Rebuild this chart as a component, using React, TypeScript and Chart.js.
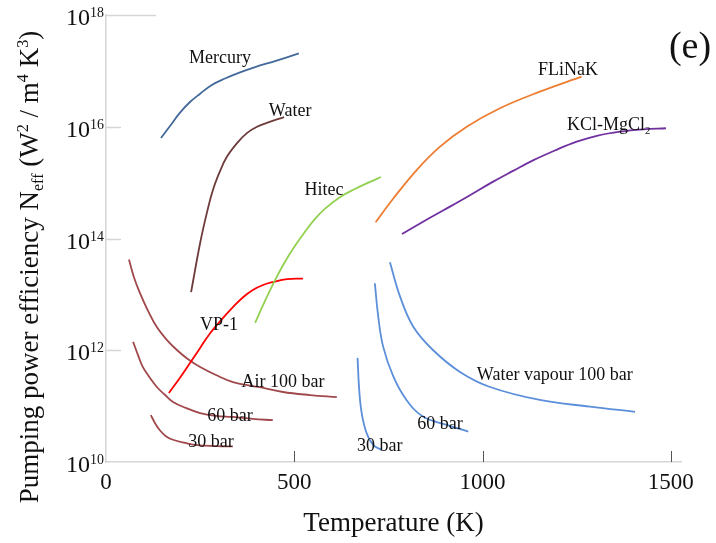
import React, { useEffect, useRef } from 'react';
import { Chart, registerables } from 'chart.js';

Chart.register(...registerables);

// ---------- data ----------
const xTickValues = [0, 500, 1000, 1500];
const yTickValues = [1e10, 1e12, 1e14, 1e16, 1e18];

const mercuryT = [146, 170, 196, 223, 250, 281, 316, 356, 396, 449, 512];
const mercuryN = [6.3e15, 1.03e16, 1.77e16, 2.77e16, 3.9e16, 5.6e16, 7.3e16, 9.4e16, 1.17e17, 1.5e17, 2.05e17];

const waterT = [226, 250, 268, 284, 303, 321, 348, 374, 401, 427, 473];
const waterN = [1.1e13, 8.3e13, 2.9e14, 7.4e14, 1.62e15, 2.9e15, 5.1e15, 7.7e15, 1.0e16, 1.17e16, 1.49e16];

const hitecT = [396, 422, 449, 475, 502, 528, 555, 581, 621, 661, 701, 730];
const hitecN = [3.1e12, 7.6e12, 1.8e13, 3.8e13, 7.4e13, 1.31e14, 2.24e14, 3.4e14, 5.5e14, 7.7e14, 1.03e15, 1.26e15];

const vp1T = [167, 196, 223, 250, 276, 308, 337, 364, 390, 417, 443, 481, 523];
const vp1N = [1.72e11, 3.2e11, 5.9e11, 1.1e12, 2.0e12, 3.6e12, 5.9e12, 8.9e12, 1.2e13, 1.47e13, 1.66e13, 1.88e13, 1.92e13];

const air100T = [61, 74, 90, 112, 135, 162, 189, 218, 250, 292, 337, 404, 470, 542, 613];
const air100N = [4.2e13, 2.05e13, 1.06e13, 5.0e12, 2.6e12, 1.52e12, 1.0e12, 6.9e11, 5.0e11, 3.6e11, 2.7e11, 2.2e11, 1.79e11, 1.58e11, 1.45e11];

const air60T = [72, 85, 98, 117, 135, 157, 178, 212, 250, 292, 337, 390, 443];
const air60N = [1.41e12, 8.2e11, 5.0e11, 3.2e11, 2.2e11, 1.58e11, 1.19e11, 9.3e10, 7.5e10, 6.7e10, 6.4e10, 5.9e10, 5.6e10];

const air30T = [119, 130, 143, 159, 178, 210, 242, 295, 337];
const air30N = [6.9e10, 5.0e10, 3.7e10, 2.9e10, 2.5e10, 2.2e10, 2.0e10, 1.93e10, 1.9e10];

const vap100T = [754, 781, 816, 869, 940, 1020, 1152, 1285, 1405];
const vap100N = [3.75e13, 9.1e12, 2.64e12, 1.0e12, 4.1e11, 2.2e11, 1.29e11, 9.8e10, 7.9e10];

const vap60T = [714, 723, 736, 763, 798, 842, 905, 962];
const vap60N = [1.58e13, 4.0e12, 1.16e12, 3.4e11, 1.29e11, 6.5e10, 4.6e10, 3.5e10];

const vap30T = [668, 672.5, 679, 692, 710, 732];
const vap30N = [7.3e11, 1.95e11, 7.5e10, 3.3e10, 2.0e10, 1.64e10];

const flinakT = [716, 763, 825, 887, 958, 1046, 1152, 1263];
const flinakN = [1.95e14, 5.2e14, 1.68e15, 4.4e15, 1.0e16, 2.14e16, 4.24e16, 7.9e16];

const kclT = [786, 842, 895, 961, 1027, 1081, 1134, 1192, 1250, 1306, 1365, 1426, 1487];
const kclN = [1.2e14, 2.0e14, 3.17e14, 5.65e14, 1.03e15, 1.62e15, 2.5e15, 3.76e15, 5.4e15, 6.97e15, 8.2e15, 9.0e15, 9.4e15];

// curve labels (text, temperature, Neff)
const labelTexts = ['Mercury', 'Water', 'Hitec', 'FLiNaK', 'KCl-MgCl_{2}', 'VP-1', 'Air 100 bar', '60 bar', '30 bar', 'Water vapour 100 bar', '60 bar', '30 bar'];
const labelT = [303, 489, 579, 1227, 1335, 300, 470, 329, 279, 1192, 887, 727];
const labelN = [1.78e17, 2.0e16, 7.7e14, 1.08e17, 1.12e16, 2.95e12, 2.8e11, 6.9e10, 2.4e10, 3.8e11, 5.0e10, 2.0e10];

const xTitle = 'Temperature (K)';
const yTitle = 'Pumping power efficiency N_{eff} (W^{2} / m^{4} K^{3})';
const panelLabel = '(e)';

// ---------- styling ----------
const FONT = "'Liberation Serif', 'Times New Roman', serif";
const AIR = '#a0484b';
const VAP = '#5b8fd9';

const seriesDefs = [
  { t: mercuryT, n: mercuryN, color: '#43699a' },
  { t: waterT, n: waterN, color: '#6e3b3b' },
  { t: hitecT, n: hitecN, color: '#92d050' },
  { t: vp1T, n: vp1N, color: '#ff0000' },
  { t: air100T, n: air100N, color: AIR },
  { t: air60T, n: air60N, color: AIR },
  { t: air30T, n: air30N, color: AIR },
  { t: vap100T, n: vap100N, color: VAP },
  { t: vap60T, n: vap60N, color: VAP },
  { t: vap30T, n: vap30N, color: VAP },
  { t: flinakT, n: flinakN, color: '#ed7d31' },
  { t: kclT, n: kclN, color: '#7030a0' },
];

type Part = { text: string; kind: 'n' | 'sub' | 'sup' };
function parseRich(s: string): Part[] {
  const parts: Part[] = [];
  const re = /(_\{[^}]*\}|\^\{[^}]*\})/g;
  let last = 0;
  let m: RegExpExecArray | null;
  while ((m = re.exec(s))) {
    if (m.index > last) parts.push({ text: s.slice(last, m.index), kind: 'n' });
    const tok = m[0];
    parts.push({ text: tok.slice(2, -1), kind: tok[0] === '_' ? 'sub' : 'sup' });
    last = m.index + tok.length;
  }
  if (last < s.length) parts.push({ text: s.slice(last), kind: 'n' });
  return parts;
}

function richWidth(ctx: CanvasRenderingContext2D, s: string, size: number, ratio: number) {
  let w = 0;
  for (const p of parseRich(s)) {
    ctx.font = `${p.kind === 'n' ? size : size * ratio}px ${FONT}`;
    w += ctx.measureText(p.text).width;
  }
  return w;
}

function drawRich(ctx: CanvasRenderingContext2D, s: string, x: number, baseline: number, size: number, ratio: number, supShift: number, subShift: number) {
  let cx = x;
  ctx.textAlign = 'left';
  ctx.textBaseline = 'alphabetic';
  for (const p of parseRich(s)) {
    ctx.font = `${p.kind === 'n' ? size : size * ratio}px ${FONT}`;
    const off = p.kind === 'sup' ? -supShift : p.kind === 'sub' ? subShift : 0;
    ctx.fillText(p.text, cx, baseline + off);
    cx += ctx.measureText(p.text).width;
  }
}

const decorPlugin = {
  id: 'decor',
  beforeDatasetsDraw(chart: any) {
    const { ctx, chartArea, scales } = chart;
    const xs = scales.x;
    const ys = scales.y;
    ctx.save();
    // inner tick marks on y axis
    ctx.strokeStyle = '#d6d6d6';
    ctx.lineWidth = 1.5;
    for (const v of yTickValues) {
      if (v === yTickValues[0]) continue;
      const py = Math.round(ys.getPixelForValue(v)) + 0.5;
      const len = v === yTickValues[yTickValues.length - 1] ? 50 : 15;
      ctx.beginPath();
      ctx.moveTo(chartArea.left, py);
      ctx.lineTo(chartArea.left + len, py);
      ctx.stroke();
    }
    // inner tick marks on x axis
    ctx.strokeStyle = '#555555';
    ctx.lineWidth = 1;
    for (const v of xTickValues) {
      if (v === 0) continue;
      const px = Math.round(xs.getPixelForValue(v)) + 0.5;
      ctx.beginPath();
      ctx.moveTo(px, chartArea.bottom);
      ctx.lineTo(px, chartArea.bottom - 11);
      ctx.stroke();
    }
    ctx.restore();
  },
  afterDraw(chart: any) {
    const { ctx, chartArea, scales } = chart;
    const xs = scales.x;
    const ys = scales.y;
    ctx.save();
    ctx.fillStyle = '#111111';
    // y tick labels with superscript exponents
    for (const v of yTickValues) {
      const py = ys.getPixelForValue(v);
      const s = `10^{${Math.round(Math.log10(v))}}`;
      const w = richWidth(ctx, s, 24, 0.58);
      drawRich(ctx, s, chartArea.left - 2 - w, py + 10, 24, 0.58, 8, 0);
    }
    // curve labels
    labelTexts.forEach((txt, i) => {
      const px = xs.getPixelForValue(labelT[i]);
      const py = ys.getPixelForValue(labelN[i]);
      const w = richWidth(ctx, txt, 18, 0.6);
      drawRich(ctx, txt, px - w / 2, py + 6, 18, 0.6, 7, 4);
    });
    // y axis title (rotated)
    ctx.save();
    ctx.translate(38, 267);
    ctx.rotate(-Math.PI / 2);
    const tw = richWidth(ctx, yTitle, 27, 0.6);
    drawRich(ctx, yTitle, -tw / 2, 0, 27, 0.6, 10, 5);
    ctx.restore();
    // panel label
    ctx.font = `38px ${FONT}`;
    ctx.textAlign = 'center';
    ctx.textBaseline = 'middle';
    ctx.fillText(panelLabel, 690, 48);
    ctx.restore();
  },
};

export default function App() {
  const ref = useRef<HTMLCanvasElement>(null);
  useEffect(() => {
    if (!ref.current) return;
    const datasets = seriesDefs.map((s) => ({
      data: s.t.map((t, i) => ({ x: t, y: s.n[i] })),
      borderColor: s.color,
      backgroundColor: s.color,
      borderWidth: 1.8,
      pointRadius: 0,
      fill: false,
      tension: 0.4,
    }));
    const chart = new Chart(ref.current, {
      type: 'line',
      data: { datasets },
      options: {
        responsive: false,
        animation: false,
        layout: { padding: { left: 0, top: 15, right: 35, bottom: 0 } },
        plugins: { legend: { display: false }, tooltip: { enabled: false } },
        scales: {
          x: {
            type: 'linear',
            min: 0,
            max: 1527,
            afterBuildTicks: (scale: any) => {
              scale.ticks = xTickValues.map((v) => ({ value: v }));
            },
            afterFit: (scale: any) => {
              scale.height = 81;
            },
            grid: { display: false, drawTicks: false },
            border: { display: true, color: '#d6d6d6', width: 1.5 },
            ticks: {
              color: '#111111',
              padding: 7,
              maxRotation: 0,
              font: { family: FONT, size: 23 },
              callback: (v: any) => String(v),
            },
            title: {
              display: true,
              text: xTitle,
              color: '#111111',
              font: { family: FONT, size: 27 },
              padding: { top: 0, bottom: 3 },
            },
          },
          y: {
            type: 'logarithmic',
            min: 1e10,
            max: 1e18,
            afterBuildTicks: (scale: any) => {
              scale.ticks = yTickValues.map((v) => ({ value: v }));
            },
            afterFit: (scale: any) => {
              scale.width = 106;
            },
            grid: { display: false, drawTicks: false },
            border: { display: true, color: '#d6d6d6', width: 1.5 },
            ticks: { display: false },
          },
        },
      },
      plugins: [decorPlugin],
    });
    return () => chart.destroy();
  }, []);
  return (
    <div style={{ position: 'absolute', left: 0, top: 0, width: 716, height: 543, background: '#ffffff' }}>
      <canvas ref={ref} width={716} height={543} style={{ display: 'block' }} />
    </div>
  );
}
